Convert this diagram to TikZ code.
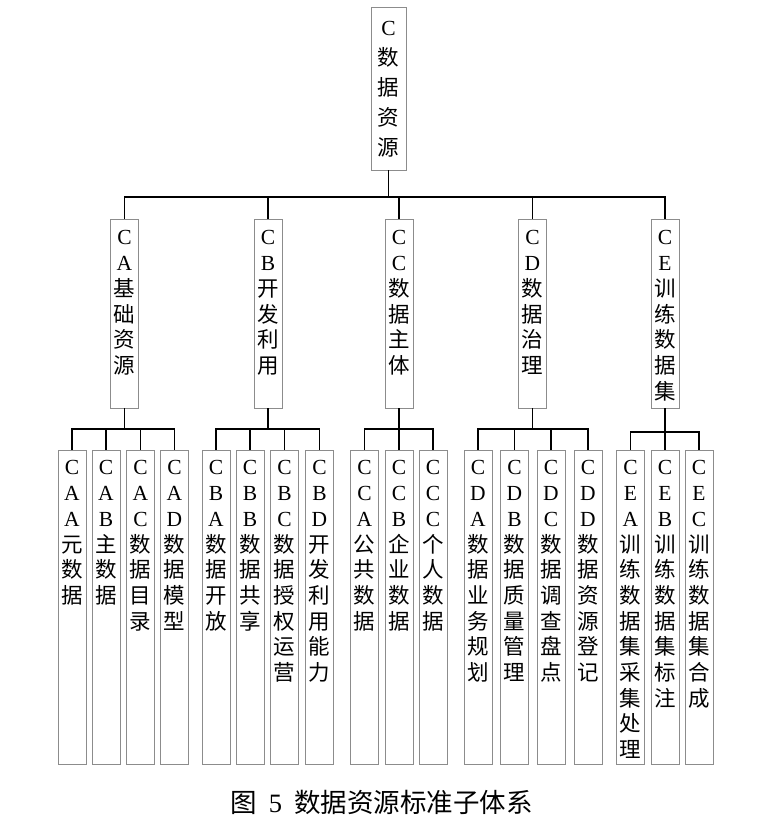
\documentclass[tikz,border=0pt]{standalone}
\usepackage{fontspec}
\setmainfont{Liberation Serif}
\newfontfamily\cjk{Noto Sans CJK SC}
\makeatletter
\def\vch#1{\ifnum`#1>127 {\cjk #1}\else #1\fi}
\def\vst#1{\vst@a#1\relax}
\def\vst@a#1{\vch{#1}\vst@b}
\def\vst@b#1{\ifx\relax#1\expandafter\@gobble\else\expandafter\@firstofone\fi{\\\vch{#1}\vst@b}}
\def\vsx#1{\expandafter\vst\expandafter{#1}}
\makeatother
\definecolor{boxgray}{HTML}{8C8C8C}
\tikzset{
  boxr/.style={draw=boxgray, line width=0.9pt, minimum width=35pt, minimum height=163pt, inner sep=0pt},
  boxg/.style={draw=boxgray, line width=0.9pt, minimum width=28pt, minimum height=189pt, inner sep=0pt},
  boxc/.style={draw=boxgray, line width=0.9pt, minimum width=28pt, minimum height=314pt, inner sep=0pt},
  vtext/.style={anchor=north, align=center, inner sep=0pt, font=\fontsize{21.5}{25.7}\selectfont},
  vtextr/.style={anchor=north, align=center, inner sep=0pt, font=\fontsize{21.5}{30}\selectfont},
  conn/.style={draw=black, line width=1.3pt},
}
\begin{document}
\begin{tikzpicture}[x=1pt,y=-1pt]
\useasboundingbox (0,0) rectangle (778,829);
% root
\node[boxr] (r) at (388.5,88.5) {};
\node[vtextr] (rt) at ([yshift=-14.5pt]r.north) {\vst{C数据资源}};
% groups
\foreach \n/\x/\t in {ca/124.5/CA基础资源, cb/268/CB开发利用, cc/399/CC数据主体, cd/532.5/CD数据治理, ce/665/CE训练数据集}{
  \node[boxg] (\n) at (\x,313.5) {};
  \node[vtext] (\n t) at ([yshift=-12pt]\n.north) {\vsx{\t}};
}
% children
\foreach \n/\x/\t in {
  caa/72/CAA元数据, cab/106/CAB主数据, cac/140.5/CAC数据目录, cad/174.5/CAD数据模型,
  cba/216/CBA数据开放, cbb/250/CBB数据共享, cbc/284.5/CBC数据授权运营, cbd/319.5/CBD开发利用能力,
  cca/364.5/CCA公共数据, ccb/399/CCB企业数据, ccc/433/CCC个人数据,
  cda/478/CDA数据业务规划, cdb/514.5/CDB数据质量管理, cdc/551/CDC数据调查盘点, cdd/588/CDD数据资源登记,
  cea/630.5/CEA训练数据集采集处理, ceb/665/CEB训练数据集标注, cec/699/CEC训练数据集合成}{
  \node[boxc] (\n) at (\x,607) {};
  \node[vtext] (\n t) at ([yshift=-11pt]\n.north) {\vsx{\t}};
}
% junctions
\coordinate (j0) at (388.5,197);
\coordinate (ja) at (124.5,429);
\coordinate (jb) at (268,429);
\coordinate (jc) at (399,429);
\coordinate (jd) at (532.5,429);
\coordinate (je) at (665,432);
\draw[conn] (r.south) -- (j0);
\foreach \g in {ca,cb,cc,cd,ce} \draw[conn] (j0) -| (\g.north);
\draw[conn] (ca.south) -- (ja);
\foreach \c in {caa,cab,cac,cad} \draw[conn] (ja) -| (\c.north);
\draw[conn] (cb.south) -- (jb);
\foreach \c in {cba,cbb,cbc,cbd} \draw[conn] (jb) -| (\c.north);
\draw[conn] (cc.south) -- (jc);
\foreach \c in {cca,ccb,ccc} \draw[conn] (jc) -| (\c.north);
\draw[conn] (cd.south) -- (jd);
\foreach \c in {cda,cdb,cdc,cdd} \draw[conn] (jd) -| (\c.north);
\draw[conn] (ce.south) -- (je);
\foreach \c in {cea,ceb,cec} \draw[conn] (je) -| (\c.north);
% caption
\node[font=\fontsize{26.5}{30}\selectfont, inner sep=0pt] (cap) at (381.5,802) {{\cjk 图}\hspace{0.45em}5\hspace{0.45em}{\cjk 数据资源标准子体系}};
\end{tikzpicture}
\end{document}
